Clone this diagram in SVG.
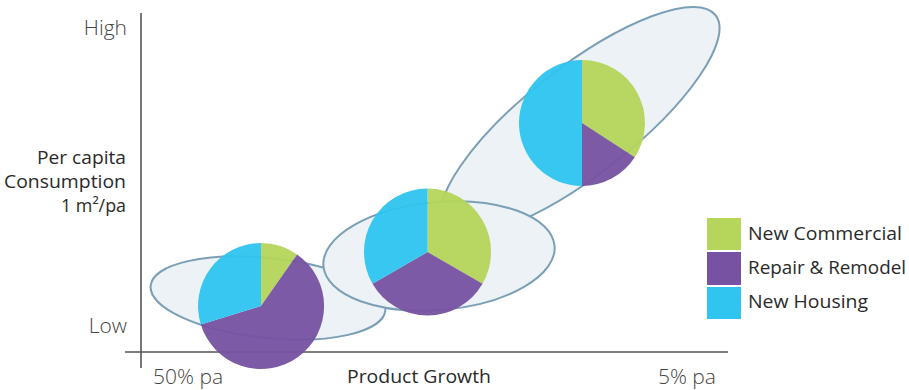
<svg xmlns="http://www.w3.org/2000/svg" width="909" height="390" viewBox="0 0 909 390">
<style>
.ell{fill:#ecf2f5;stroke:#7b9fb6;stroke-width:2}
.axis{stroke:#555;stroke-width:1.6;fill:none}
.g{fill:#b5d55b}
.p{fill:#7752a2}
.c{fill:#2fc5f0}
.pie{opacity:0.95}
.lbl{font-family:"Open Sans","Liberation Sans",sans-serif;fill:#2a2a2a;font-size:18px}
.lt{font-family:"Open Sans","Liberation Sans",sans-serif;fill:#444;font-size:21px;font-weight:300}
</style>
<rect width="909" height="390" fill="#fff"/>
<g id="ellipses">
<ellipse id="e3" class="ell" cx="580" cy="121" rx="172" ry="54" transform="rotate(-38 580 121)"/>
<ellipse id="e1" class="ell" cx="268" cy="298" rx="118" ry="40" transform="rotate(6 268 298)"/>
<ellipse id="e2" class="ell" cx="439" cy="256" rx="116" ry="54" transform="rotate(-5 439 256)"/>
</g>
<g id="axes">
<line class="axis" x1="141" y1="13" x2="141" y2="368"/>
<line class="axis" x1="125" y1="352" x2="728" y2="352"/>
</g>
<g id="pie1" class="pie">
<path class="g" d="M261,306 L261,243 A63,63 0 0 1 297.1,254.4 Z"/>
<path class="p" d="M261,306 L297.1,254.4 A63,63 0 1 1 200.8,324.4 Z"/>
<path class="c" d="M261,306 L200.8,324.4 A63,63 0 0 1 261,243 Z"/>
</g>
<g id="pie2" class="pie">
<path class="g" d="M427.5,252 L427.5,188.5 A63.5,63.5 0 0 1 482.5,283.75 Z"/>
<path class="p" d="M427.5,252 L482.5,283.75 A63.5,63.5 0 0 1 372.5,283.75 Z"/>
<path class="c" d="M427.5,252 L372.5,283.75 A63.5,63.5 0 0 1 427.5,188.5 Z"/>
</g>
<g id="pie3" class="pie">
<path class="g" d="M582,123 L582,60 A63,63 0 0 1 634.8,157.3 Z"/>
<path class="p" d="M582,123 L634.8,157.3 A63,63 0 0 1 582,186 Z"/>
<path class="c" d="M582,123 L582,186 A63,63 0 0 1 582,60 Z"/>
</g>
<g id="yaxis-labels">
<text class="lt" x="127" y="35" text-anchor="end">High</text>
<text class="lt" x="127" y="333" text-anchor="end">Low</text>
<text class="lbl" x="37" y="164" textLength="89" lengthAdjust="spacingAndGlyphs">Per capita</text>
<text class="lbl" x="4" y="188" textLength="122" lengthAdjust="spacingAndGlyphs">Consumption</text>
<text class="lbl" x="61" y="212" textLength="65" lengthAdjust="spacingAndGlyphs">1 m²/pa</text>
</g>
<g id="xaxis-labels">
<text class="lt" x="153" y="384">50% pa</text>
<text class="lbl" x="347" y="383" textLength="144" lengthAdjust="spacingAndGlyphs">Product Growth</text>
<text class="lt" x="716" y="384" text-anchor="end">5% pa</text>
</g>
<g id="legend">
<g id="leg-commercial"><rect class="g" x="707" y="218" width="34" height="32"/><text class="lbl" x="748" y="240" textLength="154" lengthAdjust="spacingAndGlyphs">New Commercial</text></g>
<g id="leg-repair"><rect class="p" x="707" y="252" width="34" height="33"/><text class="lbl" x="748" y="274" textLength="158" lengthAdjust="spacingAndGlyphs">Repair &amp; Remodel</text></g>
<g id="leg-housing"><rect class="c" x="707" y="287" width="34" height="32"/><text class="lbl" x="748" y="308" textLength="120" lengthAdjust="spacingAndGlyphs">New Housing</text></g>
</g>
</svg>
